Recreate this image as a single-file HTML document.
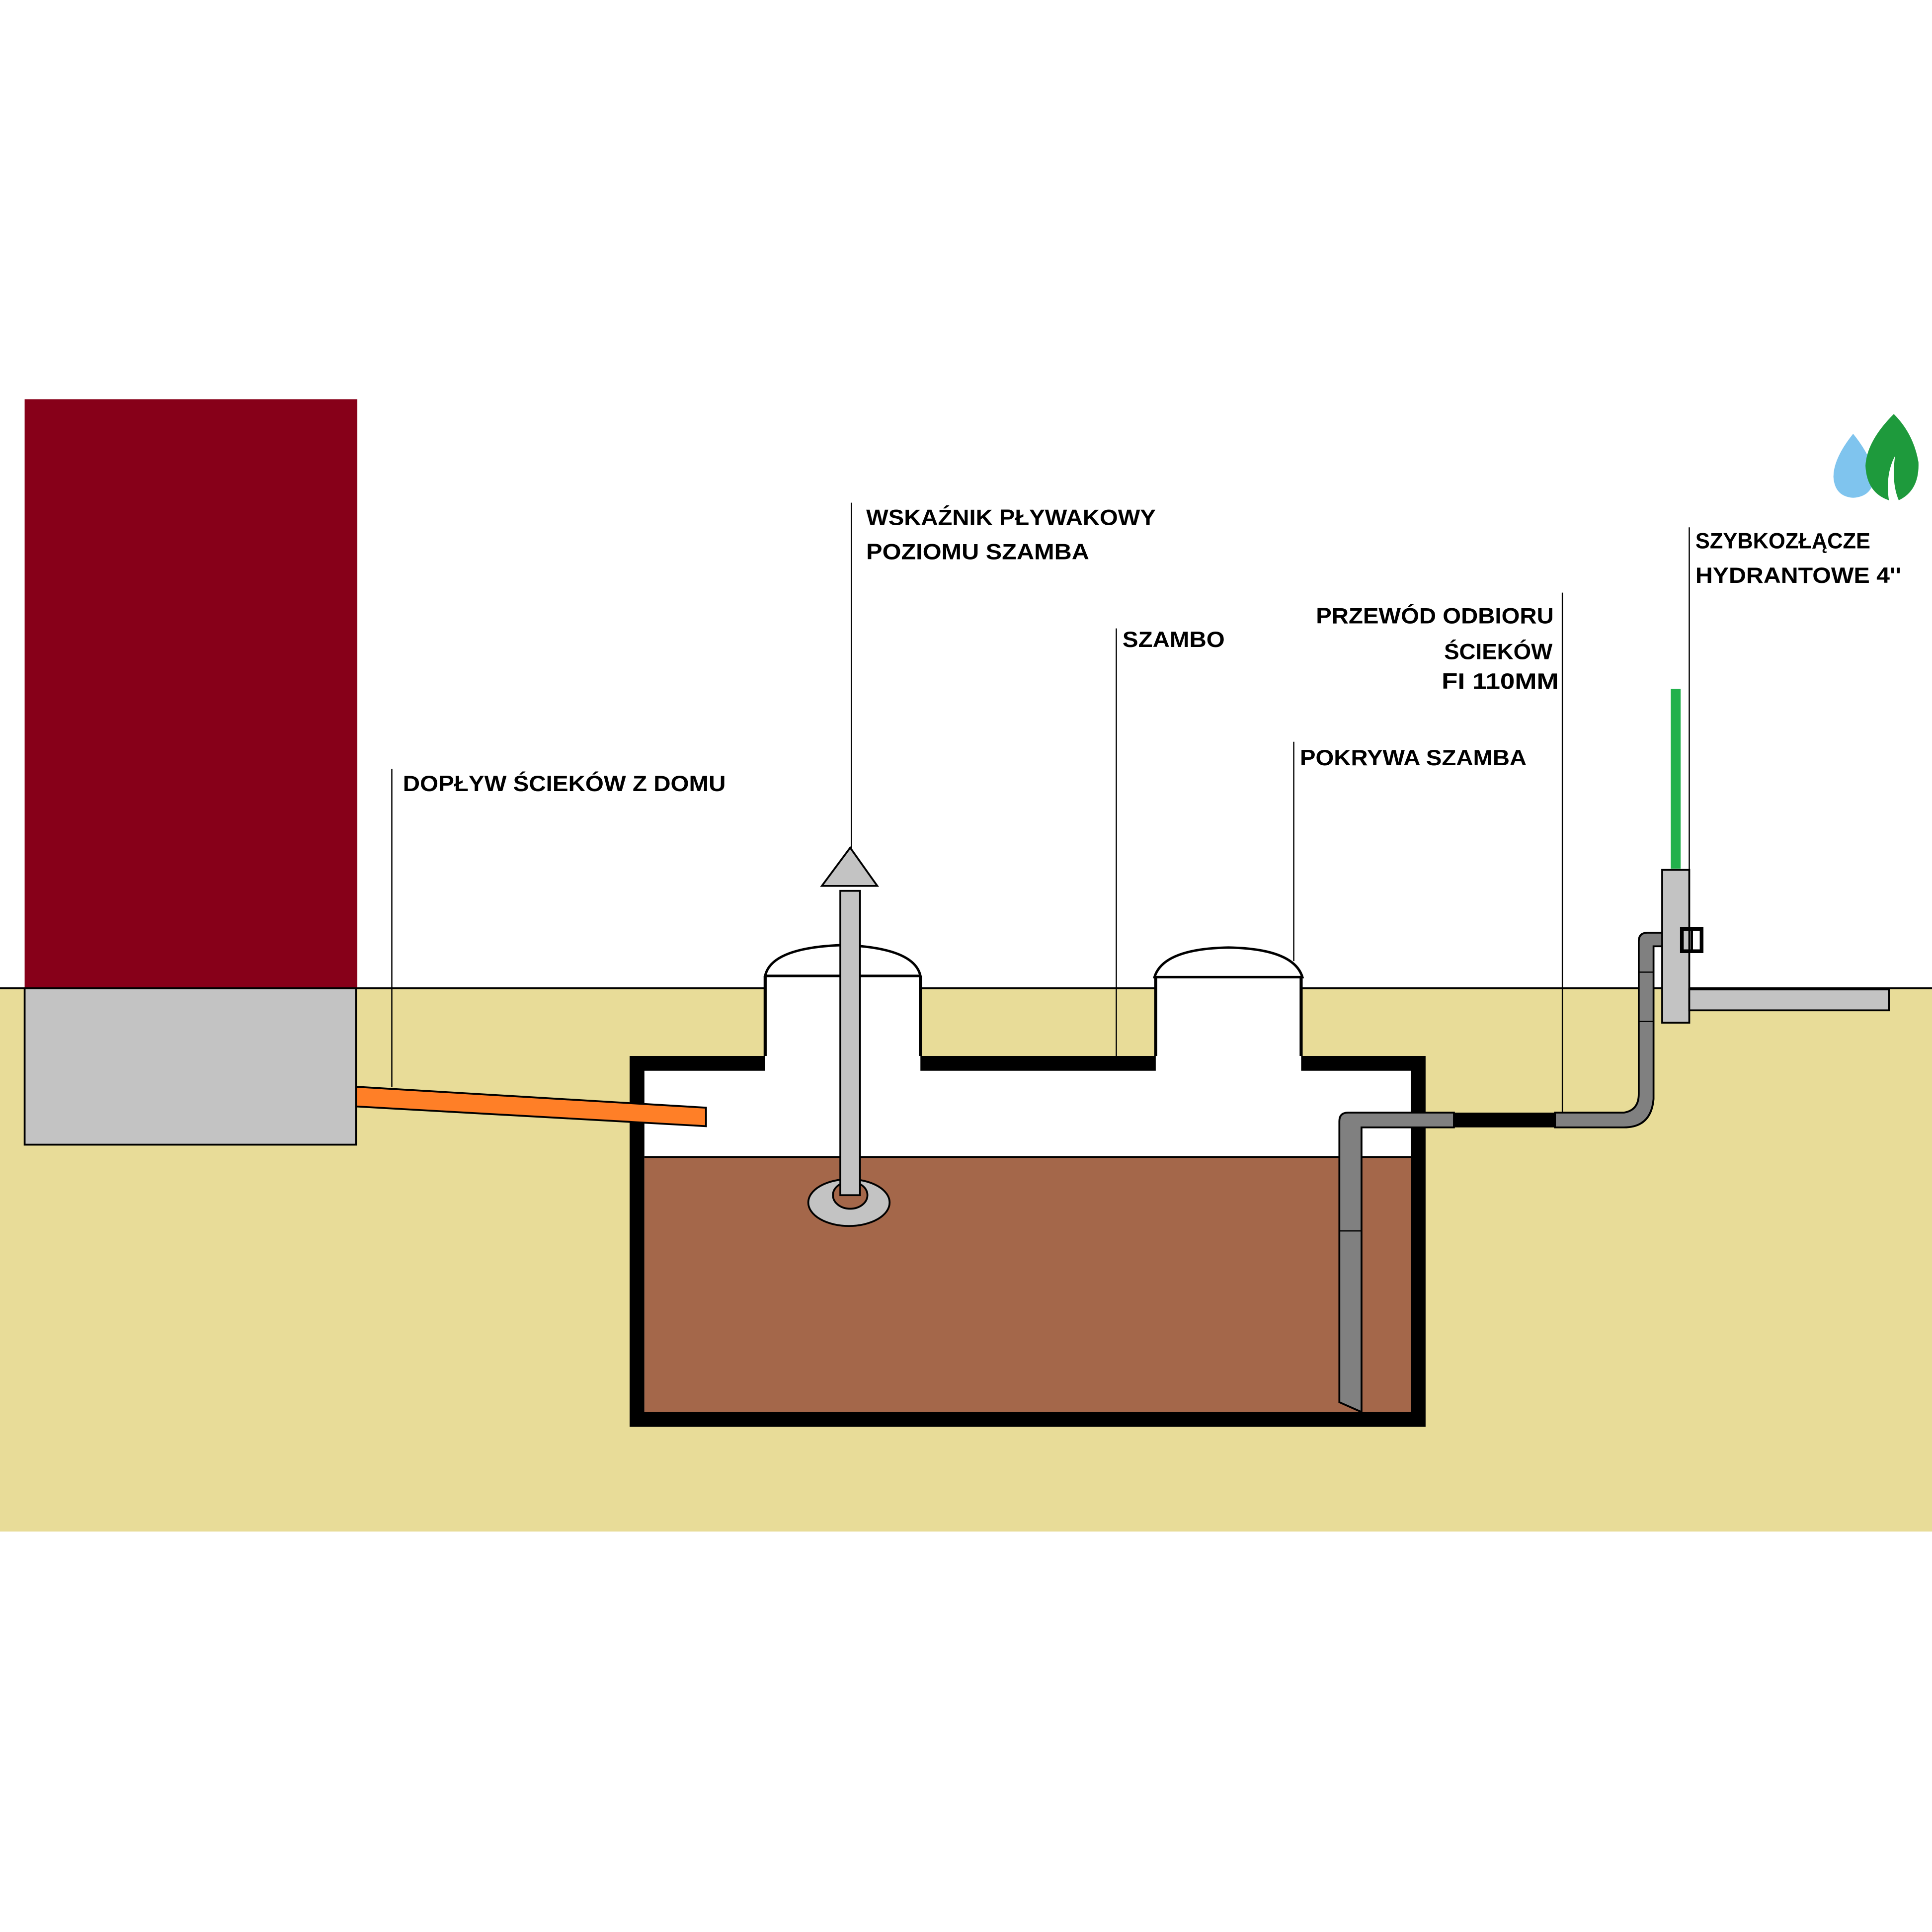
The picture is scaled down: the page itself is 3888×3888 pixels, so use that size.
<!DOCTYPE html>
<html><head><meta charset="utf-8"><style>html,body{margin:0;padding:0;background:#fff}svg{display:block}</style></head>
<body>
<svg width="3888" height="3888" viewBox="0 0 1568 1568" xmlns="http://www.w3.org/2000/svg">
<rect width="1568" height="1568" fill="#fff"/>
<rect x="0" y="802" width="1568" height="441" fill="#E8DC98"/>
<line x1="0" y1="802" x2="1568" y2="802" stroke="#000" stroke-width="1.5"/>
<!-- house -->
<rect x="20" y="324" width="270" height="478" fill="#870019"/>
<rect x="20" y="802" width="269" height="127" fill="#C3C3C3" stroke="#000" stroke-width="1.5"/>
<!-- tank -->
<rect x="517" y="863" width="634" height="289" fill="#fff" stroke="#000" stroke-width="12"/>
<rect x="523" y="939" width="622" height="207" fill="#A4674A"/>
<line x1="523" y1="939" x2="1145" y2="939" stroke="#000" stroke-width="1.5"/>
<!-- orange pipe -->
<polygon points="289,882 573,899 573,914 289,898" fill="#FF7F27" stroke="#000" stroke-width="1.5"/>
<!-- shafts -->
<rect x="621" y="792" width="126" height="80" fill="#fff"/>
<line x1="621" y1="792" x2="621" y2="857" stroke="#000" stroke-width="2.5"/>
<line x1="747" y1="792" x2="747" y2="857" stroke="#000" stroke-width="2.5"/>
<line x1="621" y1="792" x2="747" y2="792" stroke="#000" stroke-width="2"/>
<rect x="938" y="793" width="118" height="79" fill="#fff"/>
<line x1="938" y1="793" x2="938" y2="857" stroke="#000" stroke-width="2.5"/>
<line x1="1056" y1="793" x2="1056" y2="857" stroke="#000" stroke-width="2.5"/>
<line x1="938" y1="793" x2="1056" y2="793" stroke="#000" stroke-width="2"/>
<!-- domes -->
<path d="M621,792 Q626,769 684,767 Q742,769 747,792 Z" fill="#fff" stroke="#000" stroke-width="2"/>
<path d="M937,793 Q944,770 997,769 Q1050,770 1057,793 Z" fill="#fff" stroke="#000" stroke-width="2"/>
<!-- leader lines -->
<g stroke="#000" stroke-width="1">
<line x1="318" y1="624" x2="318" y2="882"/>
<line x1="691" y1="408" x2="691" y2="688"/>
<line x1="906" y1="510" x2="906" y2="857"/>
<line x1="1050" y1="602" x2="1050" y2="780"/>
<line x1="1268" y1="481" x2="1268" y2="903"/>
<line x1="1371" y1="428" x2="1371" y2="706"/>
</g>
<!-- float indicator -->
<ellipse cx="689" cy="976" rx="33" ry="19" fill="#C3C3C3" stroke="#000" stroke-width="1.5"/>
<ellipse cx="690" cy="970" rx="14" ry="11" fill="#A4674A" stroke="#000" stroke-width="1.5"/>
<rect x="682" y="723" width="16" height="247" fill="#C3C3C3" stroke="#000" stroke-width="1.5"/>
<polygon points="667,719 712,719 690,688" fill="#C3C3C3" stroke="#000" stroke-width="1.5"/>
<!-- outlet pipe -->
<path d="M1087,1138 L1087,910 Q1087,903 1094,903 L1180,903 L1180,915 L1105,915 L1105,1146 Z" fill="#808080" stroke="#000" stroke-width="1.5"/>
<line x1="1087" y1="999" x2="1105" y2="999" stroke="#000" stroke-width="1"/>
<rect x="1180" y="903" width="82" height="12" fill="#000"/>
<path d="M1262,903 L1318,903 Q1330,901 1330,888 L1330,764 Q1330,757 1337,757 L1365,757 L1365,768 L1342,768 L1342,892 Q1340,915 1318,915 L1262,915 Z" fill="#808080" stroke="#000" stroke-width="1.5"/>
<line x1="1330" y1="789" x2="1342" y2="789" stroke="#000" stroke-width="1"/>
<line x1="1330" y1="829" x2="1342" y2="829" stroke="#000" stroke-width="1"/>
<!-- hydrant -->
<rect x="1356" y="559" width="8" height="146" fill="#22B14C"/>
<rect x="1349" y="706" width="22" height="124" fill="#C3C3C3" stroke="#000" stroke-width="1.5"/>
<rect x="1371" y="803" width="162" height="17" fill="#C3C3C3" stroke="#000" stroke-width="1.5"/>
<rect x="1365" y="754" width="16" height="18" fill="none" stroke="#000" stroke-width="3"/>
<line x1="1373" y1="754" x2="1373" y2="772" stroke="#000" stroke-width="2"/>
<!-- logo -->
<path d="M1504,352 Q1488,372 1488,387 Q1489,403 1504,404 Q1520,403 1521,387 Q1520,372 1504,352 Z" fill="#7FC4EE"/>
<path d="M1537,336 Q1515,358 1514,378 Q1515,400 1533,406 Q1530,385 1538,370 Q1535,392 1541,406 Q1558,398 1557,375 Q1553,352 1537,336 Z" fill="#1E9A3C"/>
<!-- text -->
<g font-family="Liberation Sans, sans-serif" font-weight="bold" font-size="18" fill="#000">
<text x="327" y="642" textLength="262" lengthAdjust="spacingAndGlyphs">DOPŁYW ŚCIEKÓW Z DOMU</text>
<text x="703" y="426" textLength="235" lengthAdjust="spacingAndGlyphs">WSKAŹNIK PŁYWAKOWY</text>
<text x="703" y="454" textLength="181" lengthAdjust="spacingAndGlyphs">POZIOMU SZAMBA</text>
<text x="911" y="525" textLength="83" lengthAdjust="spacingAndGlyphs">SZAMBO</text>
<text x="1068" y="506" textLength="193" lengthAdjust="spacingAndGlyphs">PRZEWÓD ODBIORU</text>
<text x="1172" y="535" textLength="88" lengthAdjust="spacingAndGlyphs">ŚCIEKÓW</text>
<text x="1170" y="559" textLength="95" lengthAdjust="spacingAndGlyphs">FI 110MM</text>
<text x="1055" y="621" textLength="184" lengthAdjust="spacingAndGlyphs">POKRYWA SZAMBA</text>
<text x="1376" y="445" textLength="142" lengthAdjust="spacingAndGlyphs">SZYBKOZŁĄCZE</text>
<text x="1376" y="473" textLength="167" lengthAdjust="spacingAndGlyphs">HYDRANTOWE 4''</text>
</g>
</svg>
</body></html>
